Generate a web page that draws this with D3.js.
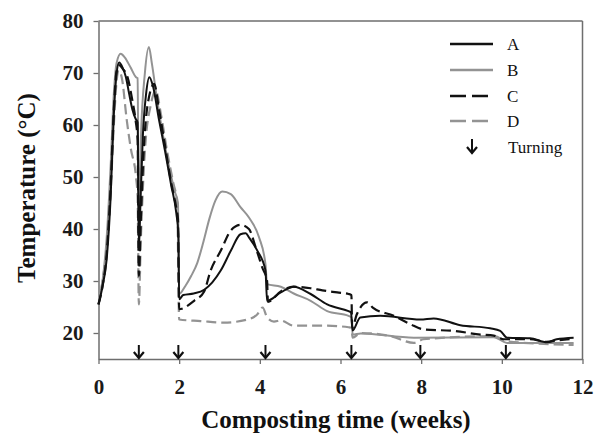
<!DOCTYPE html>
<html>
<head>
<meta charset="utf-8">
<script src="https://cdn.jsdelivr.net/npm/d3@7/dist/d3.min.js"></script>
<style>
  html, body { margin: 0; padding: 0; background: #fff; }
  svg { display: block; }
</style>
</head>
<body>
<svg id="chart" width="594" height="435"></svg>
<script>
// ---- Data (weeks, temperature °C) ----
const seriesNames = ["A", "B", "C", "D"];

const seriesA = [[0,25.5],[0.1,29],[0.2,34],[0.3,46],[0.38,62],[0.45,70],[0.51,72],[0.6,71],[0.68,69.2],[0.76,66],[0.84,63],[0.92,61.2],[0.97,60.5],[1.0,36],[1.04,45],[1.1,58],[1.18,66],[1.26,69.2],[1.35,67.5],[1.5,61],[1.65,55],[1.8,48.5],[1.93,43],[1.98,39],[2.0,26.5],[2.1,27.3],[2.36,27.6],[2.62,28.3],[3.03,32],[3.28,35.8],[3.52,39],[3.65,39.2],[3.73,38.4],[3.94,35.8],[4.14,32],[4.18,26.2],[4.52,27.8],[4.84,28.9],[5.26,27.5],[5.67,25.5],[6.2,24.2],[6.26,24],[6.3,20.5],[6.49,23],[6.99,23.3],[7.98,22.6],[8.31,22.8],[8.97,21.5],[9.71,20.9],[9.96,20.4],[10.13,19.1],[10.7,19],[11.12,18.2],[11.36,18.8],[11.78,19.1]];

const seriesB = [[0,25.5],[0.1,30],[0.2,38],[0.3,52],[0.38,66],[0.45,72],[0.55,73.7],[0.65,73],[0.8,71],[0.93,69.2],[0.97,69],[1.0,38],[1.05,57],[1.15,70],[1.25,75],[1.32,72],[1.45,65],[1.6,58],[1.75,52],[1.9,47],[1.97,45],[2.0,27.5],[2.15,29],[2.3,31],[2.45,33.5],[2.6,37.5],[2.75,42],[2.9,45.5],[3.07,47.2],[3.28,46.7],[3.52,44.2],[3.73,42.2],[3.98,38.4],[4.14,33.2],[4.18,29.4],[4.52,28.9],[4.84,27.6],[5.26,26.2],[5.67,24.2],[6.2,23.3],[6.27,23],[6.3,19.7],[6.5,19.9],[7.82,19.1],[9.8,19.2],[10.13,18.1],[11.78,18.1]];

const seriesC = [[0,25.5],[0.1,29],[0.2,35],[0.3,48],[0.38,63],[0.45,70.5],[0.51,71.5],[0.6,70.8],[0.72,69.2],[0.84,64.7],[0.92,60.9],[0.97,57],[1.0,31],[1.05,42],[1.12,55],[1.22,64],[1.38,67.9],[1.5,63],[1.65,56],[1.8,49],[1.93,44],[1.97,42],[2.0,24.6],[2.37,26.2],[2.62,28],[2.78,32],[3.03,35.8],[3.28,39.7],[3.52,40.8],[3.73,40],[3.9,36.4],[4.06,32.6],[4.18,30],[4.2,26],[4.52,28],[4.84,28.9],[5.26,28.6],[5.55,28.2],[5.92,27.8],[6.2,27.5],[6.27,27.3],[6.29,21],[6.4,23.5],[6.66,25.9],[6.8,24.9],[7.32,23.3],[7.73,21.7],[8.06,20.7],[8.81,20.4],[9.47,19.7],[9.8,19.5],[10.05,18.8],[10.7,18.8],[11.1,18.3],[11.4,18.6],[11.78,18.9]];

const seriesD = [[0,25.5],[0.1,30],[0.2,36],[0.3,47],[0.38,60],[0.45,68.5],[0.5,70.5],[0.58,69],[0.7,61],[0.8,55.5],[0.93,50],[0.97,46],[1.0,25.5],[1.05,38],[1.15,55],[1.3,64],[1.42,66.6],[1.55,62],[1.7,55],[1.85,49],[1.95,45],[2.0,22.6],[2.53,22.3],[3.11,22],[3.69,22.6],[3.94,23.6],[4.07,24.9],[4.18,23],[4.35,22.2],[4.52,22.4],[4.84,21.4],[5.67,21.4],[6.2,21.1],[6.27,21],[6.3,19.1],[6.5,20],[7.24,19.4],[7.82,18.1],[8.06,18.8],[9.8,19.4],[10.13,18.4],[11.78,17.7]];

const turningWeeks = [1.0, 1.98, 4.14, 6.27, 7.98, 10.1];

const xTicks = [0, 2, 4, 6, 8, 10, 12];
const yTicks = [20, 30, 40, 50, 60, 70, 80];

const xTitle = "Composting time (weeks)";
const yTitle = "Temperature (\u00B0C)";
const turningLabel = "Turning";

// ---- Chart ----
const svg = d3.select("#chart");
const mLeft = 98.5, mRight = 582.5, mTop = 21, mBottom = 359;

const x = d3.scaleLinear().domain([0, 12]).range([mLeft, mRight]);
const y = d3.scaleLinear().domain([15, 80]).range([mBottom, mTop]);

const axisColor = "#6e6e6e";
const grey = "#939393";
const serif = "'Liberation Serif', 'Times New Roman', serif";

// frame top & right
svg.append("line").attr("x1", mLeft).attr("x2", mRight).attr("y1", mTop).attr("y2", mTop)
  .attr("stroke", axisColor).attr("stroke-width", 1.5);
svg.append("line").attr("x1", mRight).attr("x2", mRight).attr("y1", mTop).attr("y2", mBottom)
  .attr("stroke", axisColor).attr("stroke-width", 1.5);

// axes
const xAxis = svg.append("g").attr("transform", `translate(0,${mBottom})`)
  .call(d3.axisBottom(x).tickValues(xTicks).tickSize(5).tickPadding(15).tickSizeOuter(0));
const yAxis = svg.append("g").attr("transform", `translate(${mLeft},0)`)
  .call(d3.axisLeft(y).tickValues(yTicks).tickSize(5).tickPadding(10).tickSizeOuter(0));

[xAxis, yAxis].forEach(g => {
  g.select(".domain").attr("stroke", axisColor).attr("stroke-width", 1.5);
  g.selectAll(".tick line").attr("stroke", axisColor).attr("stroke-width", 1.3);
  g.selectAll(".tick text").attr("font-family", serif).attr("font-weight", "bold")
    .attr("font-size", 21).attr("fill", "#1a1a1a");
});

// lines
const line = d3.line().x(d => x(d[0])).y(d => y(d[1])).curve(d3.curveMonotoneX);
const styles = [
  { data: seriesA, color: "#111", dash: null, w: 2.0 },
  { data: seriesB, color: grey, dash: null, w: 2.0 },
  { data: seriesC, color: "#111", dash: "10,5", w: 2.2 },
  { data: seriesD, color: grey, dash: "10,5", w: 2.2 }
];
[1, 3, 0, 2].forEach(i => {
  const s = styles[i];
  svg.append("path").datum(s.data).attr("d", line)
    .attr("fill", "none").attr("stroke", s.color).attr("stroke-width", s.w)
    .attr("stroke-linejoin", "round")
    .attr("stroke-dasharray", s.dash);
});

// turning arrows
function arrow(g, cx, y1, y2) {
  g.append("line").attr("x1", cx).attr("x2", cx).attr("y1", y1).attr("y2", y2)
    .attr("stroke", "#111").attr("stroke-width", 2);
  g.append("path").attr("d", `M${cx - 5},${y2 - 6} L${cx},${y2} L${cx + 5},${y2 - 6}`)
    .attr("fill", "none").attr("stroke", "#111").attr("stroke-width", 2.2)
    .attr("stroke-linejoin", "miter");
}
const arrowsG = svg.append("g");
turningWeeks.forEach(w => arrow(arrowsG, x(w), mBottom - 14, mBottom - 1));

// legend
const lg = svg.append("g");
const legY = [44, 70, 96, 121];
seriesNames.forEach((n, i) => {
  const s = styles[i];
  lg.append("line").attr("x1", 450).attr("x2", 493).attr("y1", legY[i]).attr("y2", legY[i])
    .attr("stroke", s.color).attr("stroke-width", s.w + 0.3)
    .attr("stroke-dasharray", s.dash ? "16,6" : null);
  lg.append("text").attr("x", 507).attr("y", legY[i] + 6).text(n)
    .attr("font-family", serif).attr("font-size", 17).attr("fill", "#111");
});
arrow(lg, 472, 139, 153);
lg.append("text").attr("x", 508).attr("y", 153).text(turningLabel)
  .attr("font-family", serif).attr("font-size", 17).attr("fill", "#111");

// axis titles
svg.append("text").attr("x", 336).attr("y", 428)
  .attr("text-anchor", "middle").text(xTitle)
  .attr("font-family", serif).attr("font-weight", "bold").attr("font-size", 25).attr("fill", "#111");
svg.append("text").attr("transform", `translate(35,${188}) rotate(-90)`)
  .attr("text-anchor", "middle").text(yTitle)
  .attr("font-family", serif).attr("font-weight", "bold").attr("font-size", 25).attr("fill", "#111");
</script>
</body>
</html>
